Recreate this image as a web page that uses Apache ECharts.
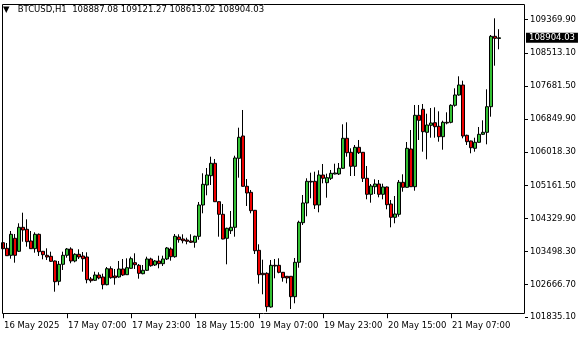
<!DOCTYPE html>
<html>
<head>
<meta charset="utf-8">
<script src="https://cdn.jsdelivr.net/npm/echarts@6/dist/echarts.min.js"></script>
<style>
html,body{margin:0;padding:0;background:#fff;}
#chart{width:580px;height:340px;}
</style>
</head>
<body>
<div id="chart"></div>
<script>
// Hourly BTCUSD H1 candles, first bar = 16 May 2025 15:00
const opens = [
103719.7, 103578.0, 103400.9, 103831.0, 103502.1, 104109.3, 104058.7, 103762.7, 103567.9, 103932.2,
103502.1, 103400.9, 103375.6, 103256.7, 102743.1, 103173.2, 103400.9, 103560.3, 103256.7, 103426.2,
103383.2, 103357.9, 102801.3, 102768.4, 102902.5, 102851.9, 102657.1, 103061.9, 102877.2, 102851.9,
103054.3, 102910.1, 103072.0, 103213.7, 103147.9, 102935.4, 103021.4, 103307.3, 103155.5, 103256.7,
103188.4, 103307.3, 103560.3, 103365.5, 103863.9, 103813.3, 103788.0, 103762.7, 103729.8, 103881.6,
104673.5, 105179.5, 105414.8, 105728.5, 104757.0, 104438.2, 103831.0, 104023.3, 104109.3, 105855.0,
106419.2, 105146.6, 104994.8, 104539.4, 103527.4, 102945.5, 102945.5, 102092.9, 103147.9, 103147.9,
102970.8, 102869.6, 102869.6, 102353.5, 103223.8, 104225.7, 104724.1, 105273.1, 105273.1, 104673.5,
105432.5, 105237.7, 105349.0, 105457.8, 105457.8, 105602.0, 106361.0, 106006.8, 105652.6, 106133.3,
106006.8, 105349.0, 104944.2, 105136.5, 105204.8, 104944.2, 105128.9, 104698.8, 104362.3, 104438.2,
105247.8, 105121.3, 106090.3, 105136.5, 106942.9, 107094.7, 106512.8, 106689.9, 106755.7, 106664.6,
106401.5, 106765.8, 106765.8, 107195.9, 107456.5, 107709.5, 106436.9, 106292.7, 106108.0, 106259.8,
106462.2, 106512.8, 107160.5, 108941.6, 108887.08
];
const closes = [
103567.9, 103390.8, 103932.2, 103400.9, 104109.3, 104041.0, 103745.0, 103567.9, 103932.2, 103492.0,
103416.1, 103357.9, 103249.1, 102733.0, 103173.2, 103400.9, 103560.3, 103256.7, 103426.2, 103357.9,
103314.9, 102783.6, 102758.3, 102902.5, 102826.6, 102657.1, 103061.9, 102834.2, 102834.2, 103054.3,
102902.5, 103087.2, 103314.9, 103163.1, 102945.5, 103021.4, 103307.3, 103137.8, 103256.7, 103188.4,
103307.3, 103585.6, 103365.5, 103881.6, 103795.6, 103770.3, 103755.1, 103729.8, 103881.6, 104673.5,
105197.2, 105432.5, 105728.5, 104757.0, 104438.2, 103813.3, 104084.0, 104109.3, 105862.6, 106386.3,
105146.6, 104977.1, 104529.3, 103517.3, 102910.1, 102910.1, 102100.5, 103147.9, 103130.2, 102970.8,
102834.2, 102826.6, 102353.5, 103223.8, 104235.8, 104724.1, 105273.1, 105255.4, 104673.5, 105432.5,
105349.0, 105364.2, 105475.5, 105483.1, 105602.0, 106361.0, 105996.7, 105652.6, 106133.3, 105996.7,
105349.0, 104944.2, 105154.2, 105204.8, 104944.2, 105128.9, 104681.1, 104362.3, 104445.8, 105247.8,
105121.3, 106108.0, 105136.5, 106942.9, 106816.4, 106528.0, 106697.5, 106748.1, 106654.5, 106401.5,
106765.8, 106748.1, 107195.9, 107456.5, 107709.5, 106419.2, 106275.0, 106123.2, 106259.8, 106462.2,
106512.8, 107160.5, 108941.6, 108891.0, 108904.03
];
const lows = [
103466.7, 103383.2, 103314.9, 103213.7, 103484.4, 103745.0, 103618.5, 103560.3, 103466.7, 103383.2,
103299.7, 103282.0, 103231.4, 102480.0, 102641.9, 103029.0, 103340.2, 103198.5, 103223.8, 103307.3,
102986.0, 102692.5, 102707.7, 102750.7, 102793.7, 102540.7, 102641.9, 102808.9, 102657.1, 102834.2,
102877.2, 102902.5, 103061.9, 103054.3, 102808.9, 102920.2, 103003.7, 103112.5, 103130.2, 103072.0,
103130.2, 103282.0, 103264.3, 103340.2, 103719.7, 103704.5, 103679.2, 103712.1, 103593.2, 103795.6,
104463.5, 104918.9, 105179.5, 104749.4, 103871.5, 103805.7, 103173.2, 103939.8, 103871.5, 105364.2,
105136.5, 104648.2, 104463.5, 103433.8, 102682.4, 102414.2, 101974.0, 102075.2, 102819.0, 102945.5,
102733.0, 102692.5, 102042.3, 102186.5, 103087.2, 104167.5, 104387.6, 104843.0, 104572.3, 104488.8,
105222.5, 104858.2, 105306.0, 105450.2, 105432.5, 105584.3, 105895.5, 105407.2, 105407.2, 105963.8,
105255.4, 104817.7, 104731.7, 104951.8, 104868.3, 104817.7, 104564.7, 104109.3, 104210.5, 104377.5,
105010.0, 105111.2, 105128.9, 105035.3, 106318.0, 106022.0, 105829.7, 106376.2, 106376.2, 106275.0,
106072.6, 106715.2, 106740.5, 107160.5, 107438.8, 106361.0, 106191.5, 105981.5, 106022.0, 106249.7,
106444.5, 106209.2, 106907.5, 108197.8, 108613.02
];
const highs = [
103838.6, 103712.1, 104015.7, 103939.8, 104210.5, 104478.7, 104311.7, 104015.7, 103982.8, 103952.4,
103509.7, 103578.0, 103492.0, 103269.3, 103256.7, 103492.0, 103585.6, 103603.3, 103451.5, 103552.7,
103484.4, 103476.8, 102851.9, 102986.0, 102970.8, 102935.4, 103104.9, 103122.6, 103054.3, 103256.7,
103307.3, 103325.0, 103365.5, 103451.5, 103180.8, 103155.5, 103365.5, 103340.2, 103282.0, 103390.8,
103390.8, 103610.9, 103603.3, 103939.8, 103932.2, 103932.2, 103846.2, 103932.2, 103896.8, 104749.4,
105475.5, 105609.6, 105895.5, 105837.3, 104762.0, 104698.8, 104099.2, 104521.7, 105920.8, 106629.2,
107077.0, 105331.3, 105053.0, 104547.0, 103679.2, 103289.6, 102970.8, 103282.0, 103307.3, 103325.0,
102978.4, 102877.2, 102877.2, 103332.6, 104276.3, 104926.5, 105349.0, 105490.7, 105516.0, 105551.4,
105710.8, 105465.4, 105559.0, 105718.4, 105736.1, 106715.2, 106765.8, 106108.0, 106191.5, 106318.0,
106014.4, 105660.2, 105204.8, 105323.7, 105306.0, 105212.4, 105141.5, 104800.0, 104901.2, 105306.0,
105450.2, 106267.4, 106571.0, 107203.5, 107203.5, 107228.8, 106983.4, 107127.6, 107145.3, 107044.1,
106806.3, 107018.8, 107221.2, 107626.0, 107929.6, 107818.3, 106452.1, 106300.3, 106376.2, 106646.9,
106816.4, 107600.7, 108974.5, 109397.0, 109121.27
];
const timeLabels = ['16 May 2025', '17 May 07:00', '17 May 23:00', '18 May 15:00',
                    '19 May 07:00', '19 May 23:00', '20 May 15:00', '21 May 07:00'];
const labelStep = 16;
const priceTicks = [109369.90, 108513.10, 107681.50, 106849.90, 106018.30,
                    105161.50, 104329.90, 103498.30, 102666.70, 101835.10];
const titleText = '\u25BC   BTCUSD,H1  108887.08 109121.27 108613.02 108904.03';
const slotCount = 131;

const categories = [];
for (let i = 0; i < slotCount; i++) categories.push(String(i));
const candleData = opens.map((o, i) => [o, closes[i], lows[i], highs[i]]);
const lastClose = closes[closes.length - 1];

const FONT = 'DejaVu Sans';
const chart = echarts.init(document.getElementById('chart'), null, {renderer: 'canvas'});
const showIdx = (idx) => idx % labelStep === 0 && idx / labelStep < timeLabels.length;

chart.setOption({
  animation: false,
  backgroundColor: '#ffffff',
  title: {
    text: titleText,
    left: 3, top: 5, padding: 0,
    textStyle: {fontFamily: FONT, fontSize: 8.5, fontWeight: 'normal', color: '#000'}
  },
  grid: {left: 1, right: 55, top: 5, bottom: 22.77, containLabel: false},
  xAxis: {
    type: 'category',
    data: categories,
    boundaryGap: true,
    offset: -4,
    axisLine: {show: false},
    axisTick: {show: true, length: 5, interval: (idx) => showIdx(idx), alignWithLabel: true,
               lineStyle: {color: '#000', width: 1}},
    axisLabel: {
      show: true, interval: (idx) => showIdx(idx),
      formatter: (v, idx) => timeLabels[idx / labelStep],
      align: 'left', margin: 8, padding: [0, 0, 0, 1],
      fontFamily: FONT, fontSize: 8.5, color: '#000'
    },
    splitLine: {show: false}
  },
  yAxis: {
    type: 'value',
    position: 'right',
    min: 101834,
    max: 109733.5,
    scale: true,
    axisLine: {show: false},
    axisTick: {show: true, length: 3, customValues: priceTicks, lineStyle: {color: '#000'}},
    axisLabel: {
      show: true, customValues: priceTicks, margin: 5,
      formatter: (v) => v.toFixed(2),
      fontFamily: FONT, fontSize: 8.5, color: '#000'
    },
    splitLine: {show: false}
  },
  graphic: [{
    type: 'rect', z: 100, silent: true,
    shape: {x: 2.5, y: 4.5, width: 522, height: 309},
    style: {fill: 'none', stroke: '#000', lineWidth: 1}
  }],
  series: [{
    type: 'candlestick',
    data: candleData,
    barWidth: 3,
    clip: false,
    itemStyle: {
      color: '#33c033', color0: '#ee0000',
      borderColor: '#000', borderColor0: '#000', borderColorDoji: '#000',
      borderWidth: 1
    },
    markLine: {
      silent: true, symbol: ['none', 'none'], animation: false,
      lineStyle: {type: 'solid', width: 1, color: 'rgba(0,0,0,0)'},
      label: {
        show: true, position: 'end', distance: 1,
        formatter: () => lastClose.toFixed(2),
        backgroundColor: '#000', color: '#fff',
        padding: [1, 3, 0, 3],
        fontFamily: FONT, fontSize: 8.5
      },
      data: [{yAxis: lastClose}]
    }
  }]
});
</script>
</body>
</html>
